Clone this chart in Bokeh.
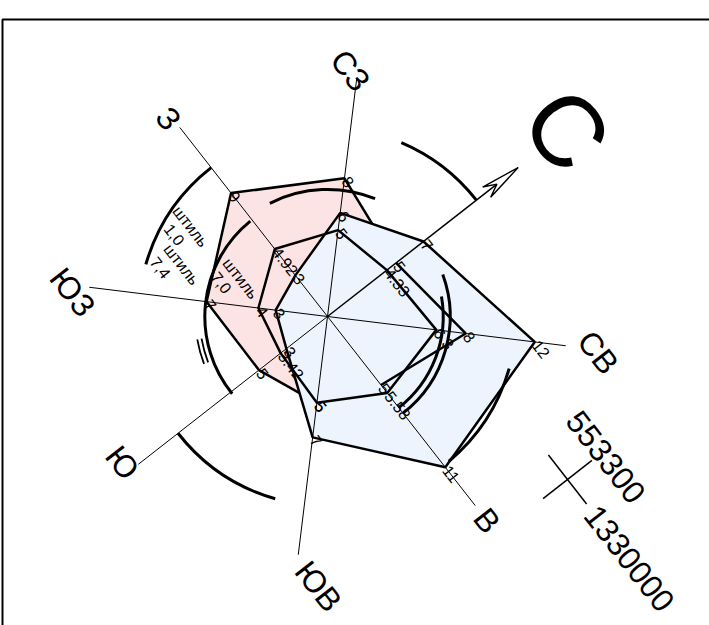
import numpy as np
from bokeh.plotting import figure
from bokeh.models import Range1d
from bokeh.embed import file_html
from bokeh.resources import INLINE
from bokeh.core.properties import value

# ---------------- data ----------------
directions = ["С", "СВ", "В", "ЮВ", "Ю", "ЮЗ", "З", "СЗ"]
bearings = [0, 45, 90, 135, 180, 225, 270, 315]
winter = [5, 8, 5, 5, 5, 7, 9, 8]
summer = [7, 12, 11, 7, 3, 3, 3, 6]
annual = [4.33, 6.3, 5.58, 5, 3.42, 4, 4.92, 5]
winter_labels = ["5", "8", "5", "5", "5", "7", "9", "8"]
summer_labels = ["7", "12", "11", "7", "3", "3", "3", "6"]
annual_labels = ["4.33", "6.3", "5.58", "5", "3.42", "4", "4.92", "5"]

# arcs: bearing from, bearing to (deg clockwise from north), radius (units)
arc_from = [331, 281, 234, 179, 197, 197, 144, 28, 18, 54]
arc_to = [360, 330, 270, 269, 208, 208, 180, 90, 90, 88]
arc_radius = [10.86, 7.3, 10.86, 7.05, 7.35, 7.6, 10.9, 6.65, 7.05, 10.86]
arc_thin = [False, False, False, False, True, True, False, False, False, False]

calm_texts = ["штиль", "1,0", "штиль", "7,4", "штиль", "7,0"]
coord_labels = ["553300", "1330000"]

# ---------------- layout ----------------
W, H = 709, 625
S = 17.4            # px per unit
CX, CY = 327, 316   # centre in px
ROT = 38.0          # math angle of north

def ang(b):
    return np.deg2rad(ROT - np.asarray(b, dtype=float))

def pol(r, b):
    a = ang(b)
    return np.asarray(r) * np.cos(a), np.asarray(r) * np.sin(a)

def px(xp, yp):
    return (xp - CX) / S, (CY - yp) / S

TA = np.deg2rad(ROT - 90)  # text angle
FONT = value("Liberation Sans")

p = figure(width=W, height=H, output_backend="svg", toolbar_location=None,
           x_range=Range1d(-CX / S, (W - CX) / S),
           y_range=Range1d(-(H - CY) / S, CY / S),
           min_border=0, outline_line_color=None)
p.axis.visible = False
p.grid.visible = False
p.background_fill_color = "white"
p.border_fill_color = "white"

# frame
fx0, fy0 = px(2, 19)
fx1, _ = px(712, 19)
_, fy1 = px(2, 630)
p.line([fx1, fx0, fx0], [fy0, fy0, fy1], line_color="black", line_width=2)

# polygons
wx, wy = pol(winter, bearings)
sx, sy = pol(summer, bearings)
ax_, ay_ = pol(annual, bearings)
p.patch(list(wx), list(wy), fill_color="#fde4e4", line_color="black", line_width=2.5)
p.patch(list(sx), list(sy), fill_color="#edf4fd", line_color="black", line_width=2.5)
p.patch(list(ax_), list(ay_), fill_color=None, line_color="black", line_width=2.5)
p.line(list(wx[:3]), list(wy[:3]), line_color="black", line_width=2.5)

# axes
RAX = 240 / S
ex, ey = pol([RAX] * 8, bearings)
p.segment(x0=[0] * 7, y0=[0] * 7, x1=list(ex[1:]), y1=list(ey[1:]),
          line_color="black", line_width=1)
# north arrow
RT = 242 / S
u = np.array([np.cos(ang(0)), np.sin(ang(0))])
v = np.array([-u[1], u[0]])
tip = RT * u
notch = tip - 27 / S * u
b1 = tip - 40 / S * u + 6.5 / S * v
b2 = tip - 40 / S * u - 6.5 / S * v
p.line([0, notch[0]], [0, notch[1]], line_color="black", line_width=1.5)
p.patch([tip[0], b1[0], notch[0], b2[0]], [tip[1], b1[1], notch[1], b2[1]],
        fill_color="white", line_color="black", line_width=1.4)

# arcs
for b0, b1_, r, thin in zip(arc_from, arc_to, arc_radius, arc_thin):
    p.arc(x=0, y=0, radius=r, start_angle=float(ang(b1_)), end_angle=float(ang(b0)),
          line_color="black", line_width=1.8 if thin else 3)

# vertex labels
for vals, labs in ((winter, winter_labels), (summer, summer_labels), (annual, annual_labels)):
    lx, ly = pol(vals, bearings)
    p.text(x=list(lx), y=list(ly), text=labs, angle=TA, text_font=FONT,
           text_font_size="16px", text_align="left", text_baseline="middle",
           text_color="black", x_offset=1)

# direction labels (radius px, angular offset deg)
lab_r = [304, 273, 259, 270, 252, 256, 254, 247]
lab_off = [0, 0.6, 0, -5.1, 2.5, -1.6, -0.8, -1.7]
for d, b, r, o in zip(directions, bearings, lab_r, lab_off):
    x, y = pol(r / S, b + o)
    big = d == "С"
    p.text(x=[float(x)], y=[float(y)], text=[d], angle=TA, text_font=FONT,
           text_font_size="100px" if big else "32px",
           text_align="center", text_baseline="middle", text_color="black")

# calm annotations
calm_pos = [(190, 226), (174, 234), (181, 264), (160, 267), (240, 278), (221, 282)]
for t, (xp, yp) in zip(calm_texts, calm_pos):
    x, y = px(xp, yp)
    p.text(x=[x], y=[y], text=[t], angle=TA, text_font=FONT, text_font_size="16px",
           text_align="center", text_baseline="middle", text_color="black")

# coordinate cross
ccx, ccy = px(567, 479)
rd = np.array([np.cos(TA), np.sin(TA)])
up = np.array([-rd[1], rd[0]])
L = 31 / S
p.segment(x0=[ccx - L * rd[0], ccx - L * up[0]], y0=[ccy - L * rd[1], ccy - L * up[1]],
          x1=[ccx + L * rd[0], ccx + L * up[0]], y1=[ccy + L * rd[1], ccy + L * up[1]],
          line_color="black", line_width=1.5)
p.text(x=[ccx + 44 / S * up[0] + 6 / S * rd[0]], y=[ccy + 44 / S * up[1] + 6 / S * rd[1]],
       text=[coord_labels[0]], angle=TA, text_font=FONT, text_font_size="32px",
       text_align="center", text_baseline="middle", text_color="black")
p.text(x=[ccx + 38 / S * rd[0]], y=[ccy + 38 / S * rd[1]], text=[coord_labels[1]],
       angle=TA, text_font=FONT, text_font_size="32px", text_align="left",
       text_baseline="middle", text_color="black")

open("out.html", "w").write(file_html(p, INLINE))
